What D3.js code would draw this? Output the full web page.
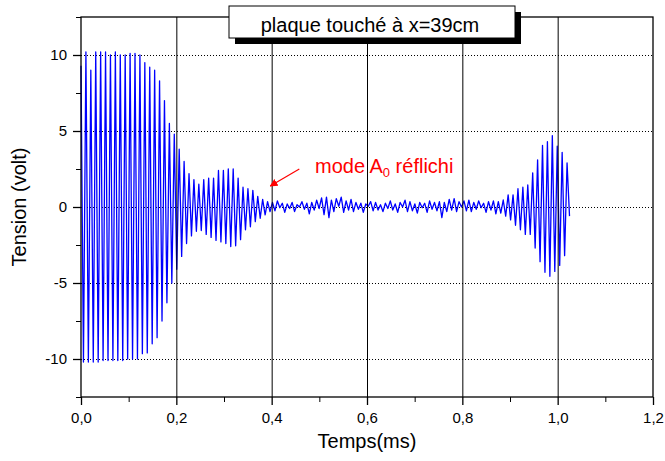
<!DOCTYPE html>
<html>
<head>
<meta charset="utf-8">
<script src="https://cdn.jsdelivr.net/npm/d3@7"></script>
<style>
  html, body { margin: 0; padding: 0; background: #fff; }
  svg { display: block; font-family: "Liberation Sans", Arial, sans-serif; }
</style>
</head>
<body>
<svg id="chart" width="665" height="461"></svg>
<script>
// Time between successive extrema of the received signal (ms)
const halfPeriod = 0.00515;

// Successive extrema (volt) of the recorded trace, in time order
const directWave = [9.3, -10.2, 10.2, -10.2, 9.0, -10.2, 10.2, -10.2, 10.2, -10.1,
  10.2, -10.1, 10.0, -10.1, 10.2, -10.1, 10.0, -10.1, 10.0, -10.0,
  10.1, -10.0, 10.1, -10.0, 10.0, -9.65, 9.5, -9.6, 9.2, -9.0,
  9.0, -8.6, 8.3, -7.5, 7.0, -6.3, 5.5, -5.0, 4.8, -4.1,
  3.8, -3.25, 3.0, -2.4, 2.2, -1.9, 1.8, -1.6, 1.5];
const reflectedA0 = [-1.55, 1.8, -1.8, 1.9, -2.0, 1.9, -2.2, 2.4, -2.3, 2.4,
  -2.4, 2.5, -2.6, 2.5, -2.55, 1.9, -2.15, 1.3, -1.5, 1.2,
  -1.3, 1.1, -0.96, 0.7, -0.74, 0.5, -0.52, 0.35, -0.3];
const noiseFloor = [0.3, -0.25, 0.4, -0.05, 0.25, -0.35, 0.2, -0.1, 0.3, -0.3,
  0.15, 0.0, 0.35, -0.15, 0.25, -0.45, 0.3, -0.2, 0.45, -0.1,
  0.6, -0.5, 0.65, -0.7, 0.45, -0.3, 0.55, 0.05, 0.65, -0.35,
  0.4, -0.2, 0.5, -0.3, 0.3, -0.15, 0.25, -0.35, 0.2, 0.05,
  0.35, -0.25, 0.3, -0.2, 0.15, -0.3, 0.25, -0.1, 0.4, -0.2,
  0.2, -0.35, 0.3, 0.0, 0.45, -0.3, 0.35, -0.25, 0.2, -0.4,
  0.3, -0.05, 0.25, -0.35, 0.4, -0.15, 0.3, -0.25, 0.35, -0.7,
  0.3, -0.3, 0.5, -0.2, 0.55, -0.3, 0.35, 0.0, 0.4, -0.25,
  0.45, -0.3, 0.3, -0.15, 0.4, -0.05, 0.25, -0.35, 0.35, -0.2,
  0.4, -0.45, 0.35, -0.4];
const lateEcho = [0.46, -0.6, 0.8, -0.85, 0.8, -1.2, 1.2, -1.5, 1.3, -1.8,
  1.45, -1.8, 2.25, -2.7, 3.1, -3.6, 4.06, -4.3, 4.3, -4.56,
  4.7, -4.24, 4.0, -3.84, 3.6, -3.2, 2.9, -0.6];

// Axis ticks
const xMajor = [0, 0.2, 0.4, 0.6, 0.8, 1.0, 1.2];
const xMinor = [0.1, 0.3, 0.5, 0.7, 0.9, 1.1];
const xGrid = [0.2, 0.4, 0.6, 0.8, 1.0];
const yMajor = [-10, -5, 0, 5, 10];
const yMinor = [-12.5, -7.5, -2.5, 2.5, 7.5, 12.5];

const titleText = "plaque touché à x=39cm";
const xTitle = "Temps(ms)";
const yTitle = "Tension (volt)";

// Layout
const margin = { left: 81, right: 12, top: 17, bottom: 64 };
const W = 665, H = 461;
const pw = W - margin.left - margin.right;
const ph = H - margin.top - margin.bottom;

const svg = d3.select("#chart");
const x = d3.scaleLinear().domain([0, 1.2]).range([margin.left, margin.left + pw]);
const y = d3.scaleLinear().domain([-12.5, 12.5]).range([margin.top + ph, margin.top]);

const comma = d => d3.format(".1f")(d).replace(".", ",");
const plain = d => String(d);

// Horizontal dotted grid
svg.append("g")
  .attr("transform", `translate(${margin.left},0)`)
  .call(d3.axisLeft(y).tickValues(yMajor).tickSize(-pw).tickFormat(""))
  .call(g => g.select(".domain").remove())
  .call(g => g.selectAll("line").attr("stroke", "#000").attr("stroke-dasharray", "1,2"));

// Signal trace
const extrema = directWave.concat(reflectedA0, noiseFloor, lateEcho);
const trace = extrema.map((v, i) => [i * halfPeriod, v]);
svg.append("path")
  .datum(trace)
  .attr("fill", "none")
  .attr("stroke", "#0000ff")
  .attr("stroke-width", 1.3)
  .attr("stroke-linejoin", "round")
  .attr("d", d3.line().x(d => x(d[0])).y(d => y(d[1])));

// Vertical solid grid
svg.append("g")
  .attr("transform", `translate(0,${margin.top + ph})`)
  .call(d3.axisBottom(x).tickValues(xGrid).tickSize(-ph).tickFormat(""))
  .call(g => g.select(".domain").remove())
  .call(g => g.selectAll("line").attr("stroke", "#000"));

// Frame
svg.append("rect")
  .attr("x", margin.left).attr("y", margin.top)
  .attr("width", pw).attr("height", ph)
  .attr("fill", "none").attr("stroke", "#000").attr("stroke-width", 1.3);

// X axis
const xAxisG = svg.append("g").attr("transform", `translate(0,${margin.top + ph})`);
xAxisG.append("g")
  .call(d3.axisBottom(x).tickValues(xMinor).tickSize(5).tickSizeOuter(0).tickFormat(""))
  .call(g => g.select(".domain").remove());
xAxisG.append("g")
  .call(d3.axisBottom(x).tickValues(xMajor).tickSize(8).tickSizeOuter(0).tickFormat(comma).tickPadding(7))
  .call(g => g.select(".domain").remove())
  .call(g => g.selectAll("line").attr("stroke-width", 1.3))
  .call(g => g.selectAll("text").attr("font-size", 15).attr("fill", "#000")
    .attr("font-family", "Liberation Sans, Arial, sans-serif"));

// Y axis
const yAxisG = svg.append("g").attr("transform", `translate(${margin.left},0)`);
yAxisG.append("g")
  .call(d3.axisLeft(y).tickValues(yMinor).tickSize(5).tickSizeOuter(0).tickFormat(""))
  .call(g => g.select(".domain").remove());
yAxisG.append("g")
  .call(d3.axisLeft(y).tickValues(yMajor).tickSize(8).tickSizeOuter(0).tickFormat(plain).tickPadding(6))
  .call(g => g.select(".domain").remove())
  .call(g => g.selectAll("line").attr("stroke-width", 1.3))
  .call(g => g.selectAll("text").attr("font-size", 15).attr("fill", "#000")
    .attr("font-family", "Liberation Sans, Arial, sans-serif"));

// Axis titles
svg.append("text")
  .attr("x", margin.left + pw / 2).attr("y", 448)
  .attr("text-anchor", "middle").attr("font-size", 20)
  .text(xTitle);
svg.append("text")
  .attr("transform", `translate(26,${margin.top + ph / 2}) rotate(-90)`)
  .attr("text-anchor", "middle").attr("font-size", 20)
  .text(yTitle);

// Title box with drop shadow
const box = { x: 229, y: 6, w: 286, h: 32, off: 6 };
svg.append("rect")
  .attr("x", box.x + box.off).attr("y", box.y + box.off)
  .attr("width", box.w).attr("height", box.h).attr("fill", "#000");
svg.append("rect")
  .attr("x", box.x).attr("y", box.y)
  .attr("width", box.w).attr("height", box.h)
  .attr("fill", "#fff").attr("stroke", "#000").attr("stroke-width", 1);
svg.append("text")
  .attr("x", box.x + box.w / 2 - 2).attr("y", box.y + 26)
  .attr("text-anchor", "middle").attr("font-size", 20)
  .text(titleText);

// Annotation for the reflected A0 mode
const note = svg.append("text")
  .attr("x", 315).attr("y", 173)
  .attr("font-size", 20).attr("fill", "#ff0000");
note.append("tspan").text("mode A");
note.append("tspan").attr("font-size", 13).attr("dy", 4).text("0");
note.append("tspan").attr("dy", -4).text(" réflichi");

svg.append("defs").append("marker")
  .attr("id", "arrowHead")
  .attr("viewBox", "0 0 10 10").attr("refX", 9).attr("refY", 5)
  .attr("markerWidth", 8).attr("markerHeight", 8)
  .attr("markerUnits", "userSpaceOnUse")
  .attr("orient", "auto")
  .append("path").attr("d", "M0,0 L10,5 L0,10 Z").attr("fill", "#ff0000");

svg.append("line")
  .attr("x1", x(0.458)).attr("y1", y(2.5))
  .attr("x2", x(0.397)).attr("y2", y(1.38))
  .attr("stroke", "#ff0000").attr("stroke-width", 1.2)
  .attr("marker-end", "url(#arrowHead)");
</script>
</body>
</html>
